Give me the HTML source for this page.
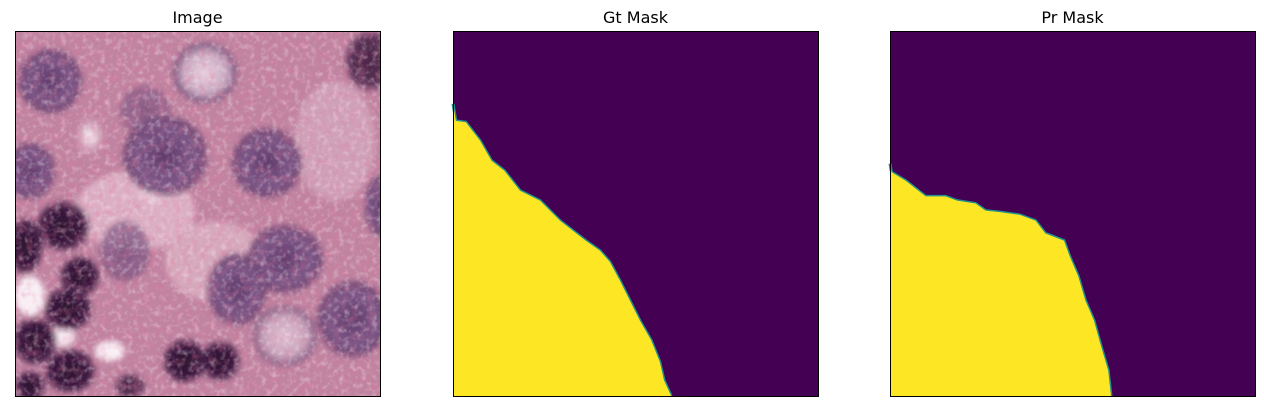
<!DOCTYPE html>
<html><head><meta charset="utf-8"><style>
html,body{margin:0;padding:0;background:#fff;width:1264px;height:411px;overflow:hidden}
svg{display:block}
text{font-family:"DejaVu Sans","Liberation Sans",sans-serif;font-size:16px;fill:#000}
</style></head><body>
<svg id="fig" width="1264" height="411">
<defs>
<radialGradient id="gDark"><stop offset="0" stop-color="#2e1030"/><stop offset="0.75" stop-color="#3c1a40"/><stop offset="1" stop-color="#5a3058" stop-opacity="0.6"/></radialGradient>
<radialGradient id="gMed"><stop offset="0" stop-color="#5e3a6a"/><stop offset="0.7" stop-color="#7e5888"/><stop offset="1" stop-color="#623a68" stop-opacity="0.8"/></radialGradient>
<radialGradient id="gLight"><stop offset="0" stop-color="#e8d0e0"/><stop offset="0.7" stop-color="#c8a8c0"/><stop offset="1" stop-color="#6a4470"/></radialGradient>
<radialGradient id="gWhite"><stop offset="0" stop-color="#ffffff"/><stop offset="1" stop-color="#f0d8e4" stop-opacity="0"/></radialGradient>
<filter id="blur"><feGaussianBlur stdDeviation="3"/></filter>
<filter id="noise" x="0" y="0" width="100%" height="100%">
<feTurbulence type="fractalNoise" baseFrequency="0.18" numOctaves="2" seed="4"/>
<feColorMatrix type="matrix" values="0 0 0 0 1  0 0 0 0 0.9  0 0 0 0 0.95  1.6 0 0 0 -0.75"/>
</filter>
<filter id="noise2" x="0" y="0" width="100%" height="100%">
<feTurbulence type="fractalNoise" baseFrequency="0.12" numOctaves="2" seed="9"/>
<feColorMatrix type="matrix" values="0 0 0 0 0.75  0 0 0 0 0.2  0 0 0 0 0.35  1.5 0 0 0 -0.7"/>
</filter>
<clipPath id="c1"><rect x="15" y="31" width="365" height="365"/></clipPath>
</defs>
<text x="197.5" y="23" text-anchor="middle">Image</text>
<text x="635.5" y="23" text-anchor="middle">Gt Mask</text>
<text x="1072.5" y="23" text-anchor="middle">Pr Mask</text>
<g id="img" clip-path="url(#c1)">
<rect x="15" y="31" width="365" height="365" fill="#c083a0"/>
<g filter="url(#blur)" transform="translate(15,31)">
<ellipse cx="120" cy="180" rx="60" ry="40" fill="#dcb0c4"/>
<ellipse cx="200" cy="230" rx="50" ry="40" fill="#d6a8bc"/>
<ellipse cx="320" cy="110" rx="40" ry="60" fill="#cfa0b8"/>
<ellipse cx="75" cy="105" rx="15" ry="20" fill="url(#gWhite)"/>
<ellipse cx="140" cy="160" rx="20" ry="15" fill="url(#gWhite)"/>
<ellipse cx="35" cy="50" rx="32" ry="32" fill="url(#gMed)"/>
<ellipse cx="190" cy="42" rx="32" ry="30" fill="url(#gLight)"/>
<ellipse cx="150" cy="125" rx="42" ry="40" fill="url(#gMed)"/>
<ellipse cx="252" cy="132" rx="35" ry="35" fill="url(#gMed)"/>
<ellipse cx="130" cy="80" rx="25" ry="25" fill="url(#gMed)" opacity="0.6"/>
<ellipse cx="270" cy="228" rx="38" ry="34" fill="url(#gMed)"/>
<ellipse cx="222" cy="258" rx="30" ry="36" fill="url(#gMed)"/>
<ellipse cx="338" cy="288" rx="36" ry="38" fill="url(#gMed)"/>
<ellipse cx="270" cy="305" rx="32" ry="30" fill="url(#gLight)" opacity="0.8"/>
<ellipse cx="110" cy="220" rx="25" ry="30" fill="url(#gMed)" opacity="0.7"/>
<ellipse cx="355" cy="30" rx="25" ry="30" fill="url(#gDark)" opacity="0.8"/>
<ellipse cx="365" cy="175" rx="15" ry="30" fill="url(#gMed)"/>
<ellipse cx="10" cy="215" rx="18" ry="28" fill="url(#gDark)"/>
<ellipse cx="48" cy="195" rx="27" ry="25" fill="url(#gDark)"/>
<ellipse cx="15" cy="140" rx="25" ry="28" fill="url(#gMed)"/>
<ellipse cx="15" cy="265" rx="15" ry="20" fill="#f8eef4"/>
<ellipse cx="48" cy="305" rx="12" ry="10" fill="#f6e8f0"/>
<ellipse cx="65" cy="245" rx="20" ry="20" fill="url(#gDark)"/>
<ellipse cx="53" cy="278" rx="24" ry="22" fill="url(#gDark)"/>
<ellipse cx="20" cy="310" rx="22" ry="24" fill="url(#gDark)"/>
<ellipse cx="55" cy="340" rx="26" ry="22" fill="url(#gDark)"/>
<ellipse cx="15" cy="355" rx="15" ry="15" fill="url(#gDark)"/>
<ellipse cx="95" cy="320" rx="15" ry="10" fill="#f8eef4"/>
<ellipse cx="170" cy="330" rx="22" ry="22" fill="url(#gDark)"/>
<ellipse cx="205" cy="330" rx="20" ry="20" fill="url(#gDark)"/>
<ellipse cx="115" cy="355" rx="15" ry="12" fill="url(#gDark)" opacity="0.8"/>
</g>
<rect x="15" y="31" width="365" height="365" filter="url(#noise2)" opacity="0.6"/>
<rect x="15" y="31" width="365" height="365" filter="url(#noise)" opacity="0.55"/>
</g>
<rect x="15.5" y="31.5" width="365" height="365" fill="none" stroke="#000" stroke-width="1"/>
<g id="gt">
<rect x="453" y="31" width="365" height="365" fill="#440154"/>
</g>
<rect x="453.5" y="31.5" width="365" height="365" fill="none" stroke="#000"/>
<g id="pr">
<rect x="890" y="31" width="365" height="365" fill="#440154"/>
</g>
<rect x="890.5" y="31.5" width="365" height="365" fill="none" stroke="#000"/>
</svg>
<script>
// boundary of foreground region, in image pixel coordinates (0..256 per side)
const gtBoundaryX = [0, 2, 9, 19, 27, 36, 47, 61, 75, 93, 103, 110, 117, 124, 131, 139, 145, 148, 153];
const gtBoundaryY = [51, 63, 64, 77, 91, 98, 112, 119, 133, 147, 154, 162, 175, 189, 203, 217, 232, 245, 256];
const prBoundaryX = [0, 1, 11, 25, 39, 47, 60, 67, 77, 91, 102, 109, 122, 126, 132, 137, 143, 148, 153, 155];
const prBoundaryY = [93, 99, 105, 116, 116, 119, 121, 126, 127, 129, 133, 142, 147, 158, 172, 189, 203, 221, 238, 256];
const N = 256, SIZE = 365;
function sx(v, x0) { return x0 + v / N * SIZE; }
function sy(v) { return 31 + v / N * SIZE; }
function drawMask(gid, xs, ys, x0, name) {
  const g = document.getElementById(gid);
  let pts = [];
  for (let i = 0; i < xs.length; i++) pts.push(sx(xs[i], x0) + ',' + sy(ys[i]));
  pts.push(sx(0, x0) + ',' + sy(N));
  const edge = document.createElementNS('http://www.w3.org/2000/svg', 'polyline');
  edge.setAttribute('points', pts.slice(0, xs.length).join(' '));
  edge.setAttribute('fill', 'none');
  edge.setAttribute('stroke', '#21918c');
  edge.setAttribute('stroke-width', '3');
  
  
  g.appendChild(edge);
  const p = document.createElementNS('http://www.w3.org/2000/svg', 'polygon');
  p.setAttribute('points', pts.join(' '));
  p.setAttribute('fill', '#fde725');
  
  
  g.appendChild(p);
}
drawMask('gt', gtBoundaryX, gtBoundaryY, 453, 'gt-mask');
drawMask('pr', prBoundaryX, prBoundaryY, 890, 'pr-mask');
</script>
</body></html>
